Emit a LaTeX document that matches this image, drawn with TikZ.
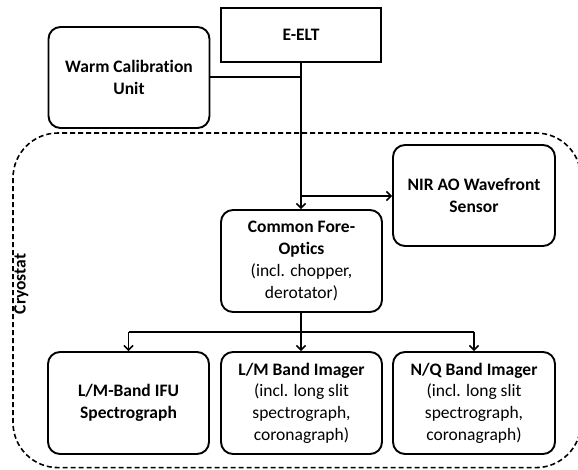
\documentclass[tikz,border=0pt]{standalone}
\usepackage{fontspec}
\setmainfont{Carlito}[Ligatures=NoCommon]
\usetikzlibrary{arrows.meta}
\begin{document}
\begin{tikzpicture}[x=1pt,y=-1pt,
  box/.style={draw,line width=1.9pt,rounded corners=12pt,align=center,inner sep=0pt,
    font=\fontsize{17.5}{21.7}\selectfont},
  sqbox/.style={draw,line width=1.9pt,align=center,inner sep=0pt,
    font=\fontsize{17.5}{21.7}\selectfont},
  conn/.style={line width=1.6pt},
  arr/.style={conn,-{Straight Barb[length=4.5pt,width=9pt]}},
  cryo/.style={dashed,line width=1.6pt,dash pattern=on 5pt off 3pt,rounded corners=45pt}]
\useasboundingbox (0,0) rectangle (578,469);
\begin{scope}
\clip (0,0) rectangle (578,469);
\draw[cryo] (13,133) rectangle (581,467.6);
\end{scope}
\node[font=\bfseries\fontsize{17.5}{20}\selectfont,rotate=90,anchor=south,inner sep=0pt] (cryolabel) at (28.5,284) {Cryostat};

\node[sqbox,minimum width=160pt,minimum height=54pt] (eelt) at (301,35) {\textbf{E-ELT}};
\node[box,minimum width=161pt,minimum height=101pt] (wcu) at (129,77.5) {\textbf{Warm Calibration}\\\textbf{Unit}};
\node[box,minimum width=162pt,minimum height=101pt] (nir) at (474,195.5) {\textbf{NIR AO Wavefront}\\\textbf{Sensor}};
\node[box,minimum width=161pt,minimum height=102pt] (cfo) at (301.5,261) {\textbf{Common Fore-}\\\textbf{Optics}\\(incl. chopper,\\derotator)};
\node[box,minimum width=161pt,minimum height=102pt] (ifu) at (128.5,403) {\textbf{L/M-Band IFU}\\\textbf{Spectrograph}};
\node[box,minimum width=161pt,minimum height=102pt] (lmi) at (301.5,403) {\textbf{L/M Band Imager}\\(incl. long slit\\spectrograph,\\coronagraph)};
\node[box,minimum width=162pt,minimum height=102pt] (nqi) at (474,403) {\textbf{N/Q Band Imager}\\(incl. long slit\\spectrograph,\\coronagraph)};

\coordinate (jw) at (301,77);
\coordinate (jn) at (301,196);
\coordinate (jb) at (301,332);
\coordinate (jl) at (128.5,332);
\coordinate (jr) at (474,332);

\draw[arr] (eelt.south -| jw) -- (jw |- cfo.north);
\draw[conn] (wcu.east |- jw) -- (jw);
\draw[arr] (jn) -- (nir.west |- jn);
\draw[conn] (jw |- cfo.south) -- (jb);
\draw[conn] (jl) -- (jr);
\draw[arr] (jl) -- (ifu.north);
\draw[arr] (jb) -- (jb |- lmi.north);
\draw[arr] (jr) -- (nqi.north);
\end{tikzpicture}
\end{document}
